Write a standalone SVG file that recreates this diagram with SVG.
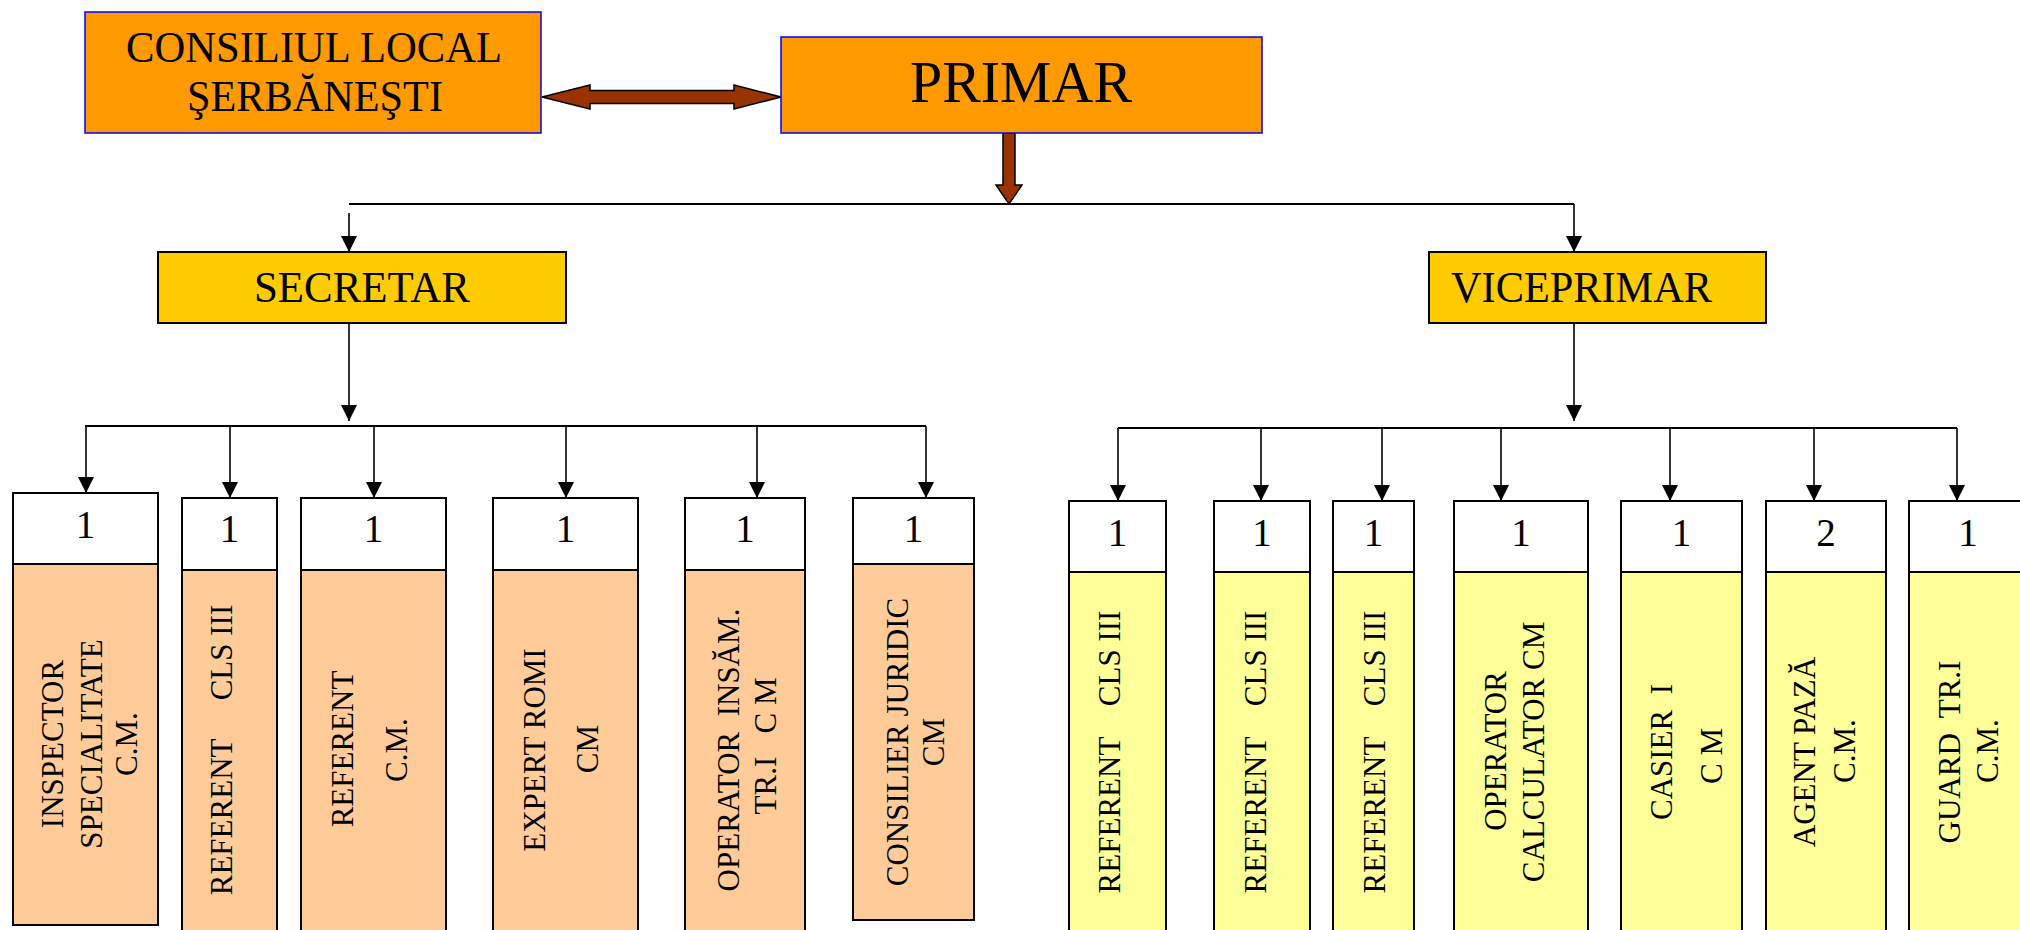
<svg xmlns="http://www.w3.org/2000/svg" width="2020" height="930" viewBox="0 0 2020 930">
<defs>
<style>
text{font-family:"Liberation Serif","Times New Roman",serif;fill:#000}
.top{fill:#FF9900;stroke:#0000FF;stroke-width:1.5}
.mid{fill:#FFCC00;stroke:#000;stroke-width:2}
.cell{fill:#FFFFFF;stroke:#000;stroke-width:2}
.pe{fill:#FFCC99;stroke:#000;stroke-width:2}
.ye{fill:#FFFF99;stroke:#000;stroke-width:2}
.num{font-size:39px;text-anchor:middle}
.vt{font-size:31px;text-anchor:middle;white-space:pre}
.ln{stroke:#000;stroke-width:1.8;fill:none}
.ar{stroke:#000;stroke-width:1.6;fill:none;marker-end:url(#ah)}
.blk{fill:#993300;stroke:#000;stroke-width:1.5;stroke-linejoin:miter}
</style>
<marker id="ah" markerUnits="userSpaceOnUse" markerWidth="16" markerHeight="16" viewBox="0 0 15 15" refX="15" refY="7.5" orient="auto">
<path d="M0,0 L15,7.5 L0,15 z" fill="#000"/>
</marker>
</defs>

<g id="connectors">
<polygon class="blk" points="542,97 590,85 590,90.5 734,90.5 734,85 781,97 734,109 734,103.5 590,103.5 590,109"/>
<polygon class="blk" points="1003,133 1015,133 1015,185 1022,185 1009,204 996,185 1003,185"/>
<line class="ln" x1="349" y1="204" x2="1574" y2="204"/>
<line class="ar" x1="349" y1="213" x2="349" y2="252"/>
<line class="ar" x1="1574" y1="204" x2="1574" y2="252"/>
<line class="ar" x1="349" y1="324" x2="349" y2="421"/>
<line class="ar" x1="1574" y1="324" x2="1574" y2="421"/>
<line class="ln" x1="85" y1="426" x2="926" y2="426"/>
<line class="ar" x1="86" y1="426" x2="86" y2="493"/>
<line class="ar" x1="230" y1="426" x2="230" y2="498"/>
<line class="ar" x1="374" y1="426" x2="374" y2="498"/>
<line class="ar" x1="566" y1="426" x2="566" y2="498"/>
<line class="ar" x1="757" y1="426" x2="757" y2="498"/>
<line class="ar" x1="926" y1="426" x2="926" y2="498"/>
<line class="ln" x1="1118" y1="428" x2="1957" y2="428"/>
<line class="ar" x1="1118" y1="428" x2="1118" y2="501"/>
<line class="ar" x1="1261" y1="428" x2="1261" y2="501"/>
<line class="ar" x1="1382" y1="428" x2="1382" y2="501"/>
<line class="ar" x1="1501" y1="428" x2="1501" y2="501"/>
<line class="ar" x1="1670" y1="428" x2="1670" y2="501"/>
<line class="ar" x1="1814" y1="428" x2="1814" y2="501"/>
<line class="ar" x1="1957" y1="428" x2="1957" y2="501"/>
</g>

<g id="consiliul">
<rect class="top" x="85" y="12" width="456" height="121"/>
<text x="314" y="62" font-size="45" text-anchor="middle" textLength="376" lengthAdjust="spacingAndGlyphs">CONSILIUL LOCAL</text>
<text x="315" y="111" font-size="45" text-anchor="middle" textLength="256" lengthAdjust="spacingAndGlyphs">ŞERBĂNEŞTI</text>
</g>

<g id="primar">
<rect class="top" x="781" y="37" width="481" height="96"/>
<text x="1021" y="102" font-size="60" text-anchor="middle" textLength="222" lengthAdjust="spacingAndGlyphs">PRIMAR</text>
</g>

<g id="secretar">
<rect class="mid" x="158" y="252" width="408" height="71"/>
<text x="362" y="302" font-size="44" text-anchor="middle" textLength="216" lengthAdjust="spacingAndGlyphs">SECRETAR</text>
</g>

<g id="viceprimar">
<rect class="mid" x="1429" y="252" width="337" height="71"/>
<text x="1451" y="302" font-size="44" textLength="261" lengthAdjust="spacingAndGlyphs">VICEPRIMAR</text>
</g>

<g id="s1">
<rect class="pe" x="13" y="564" width="145" height="361"/>
<rect class="cell" x="13" y="493" width="145" height="71"/>
<text class="num" x="85.5" y="538">1</text>
<text class="vt" transform="translate(63,744) rotate(-90)">INSPECTOR</text>
<text class="vt" transform="translate(102,744) rotate(-90)">SPECIALITATE</text>
<text class="vt" transform="translate(137,744) rotate(-90)">C.M.</text>
</g>

<g id="s2">
<rect class="pe" x="182" y="570" width="95" height="365"/>
<rect class="cell" x="182" y="498" width="95" height="72"/>
<text class="num" x="229.5" y="542">1</text>
<text class="vt" xml:space="preserve" transform="translate(232,750) rotate(-90)">REFERENT     CLS III</text>
</g>

<g id="s3">
<rect class="pe" x="301" y="570" width="145" height="365"/>
<rect class="cell" x="301" y="498" width="145" height="72"/>
<text class="num" x="373.5" y="542">1</text>
<text class="vt" transform="translate(353,749) rotate(-90)">REFERENT</text>
<text class="vt" transform="translate(407,750) rotate(-90)">C.M.</text>
</g>

<g id="s4">
<rect class="pe" x="493" y="570" width="145" height="365"/>
<rect class="cell" x="493" y="498" width="145" height="72"/>
<text class="num" x="565.5" y="542">1</text>
<text class="vt" transform="translate(545,750) rotate(-90)">EXPERT ROMI</text>
<text class="vt" transform="translate(598,749) rotate(-90)">CM</text>
</g>

<g id="s5">
<rect class="pe" x="685" y="570" width="120" height="365"/>
<rect class="cell" x="685" y="498" width="120" height="72"/>
<text class="num" x="745" y="542">1</text>
<text class="vt" xml:space="preserve" transform="translate(739,750) rotate(-90)">OPERATOR  INSĂM.</text>
<text class="vt" xml:space="preserve" transform="translate(776,746) rotate(-90)">TR.I   C M</text>
</g>

<g id="s6">
<rect class="pe" x="853" y="564" width="121" height="356"/>
<rect class="cell" x="853" y="498" width="121" height="66"/>
<text class="num" x="913.5" y="542">1</text>
<text class="vt" transform="translate(908,742) rotate(-90)">CONSILIER JURIDIC</text>
<text class="vt" transform="translate(944,742) rotate(-90)">CM</text>
</g>

<g id="v1">
<rect class="ye" x="1069" y="572" width="97" height="365"/>
<rect class="cell" x="1069" y="501" width="97" height="71"/>
<text class="num" x="1117.5" y="546">1</text>
<text class="vt" xml:space="preserve" transform="translate(1120,752) rotate(-90)">REFERENT    CLS III</text>
</g>

<g id="v2">
<rect class="ye" x="1214" y="572" width="96" height="365"/>
<rect class="cell" x="1214" y="501" width="96" height="71"/>
<text class="num" x="1262" y="546">1</text>
<text class="vt" xml:space="preserve" transform="translate(1266,752) rotate(-90)">REFERENT    CLS III</text>
</g>

<g id="v3">
<rect class="ye" x="1333" y="572" width="81" height="365"/>
<rect class="cell" x="1333" y="501" width="81" height="71"/>
<text class="num" x="1373.5" y="546">1</text>
<text class="vt" xml:space="preserve" transform="translate(1385,752) rotate(-90)">REFERENT    CLS III</text>
</g>

<g id="v4">
<rect class="ye" x="1454" y="572" width="134" height="365"/>
<rect class="cell" x="1454" y="501" width="134" height="71"/>
<text class="num" x="1521" y="546">1</text>
<text class="vt" transform="translate(1506,751) rotate(-90)">OPERATOR</text>
<text class="vt" transform="translate(1544,752) rotate(-90)">CALCULATOR CM</text>
</g>

<g id="v5">
<rect class="ye" x="1621" y="572" width="121" height="365"/>
<rect class="cell" x="1621" y="501" width="121" height="71"/>
<text class="num" x="1681.5" y="546">1</text>
<text class="vt" xml:space="preserve" transform="translate(1672,752) rotate(-90)">CASIER  I</text>
<text class="vt" transform="translate(1722,756) rotate(-90)">C M</text>
</g>

<g id="v6">
<rect class="ye" x="1766" y="572" width="120" height="365"/>
<rect class="cell" x="1766" y="501" width="120" height="71"/>
<text class="num" x="1826" y="546">2</text>
<text class="vt" transform="translate(1815,752) rotate(-90)">AGENT PAZĂ</text>
<text class="vt" transform="translate(1855,751) rotate(-90)">C.M.</text>
</g>

<g id="v7">
<rect class="ye" x="1909" y="572" width="119" height="365"/>
<rect class="cell" x="1909" y="501" width="119" height="71"/>
<text class="num" x="1968" y="546">1</text>
<text class="vt" xml:space="preserve" transform="translate(1960,752) rotate(-90)">GUARD  TR.I</text>
<text class="vt" transform="translate(1998,751) rotate(-90)">C.M.</text>
</g>
</svg>
